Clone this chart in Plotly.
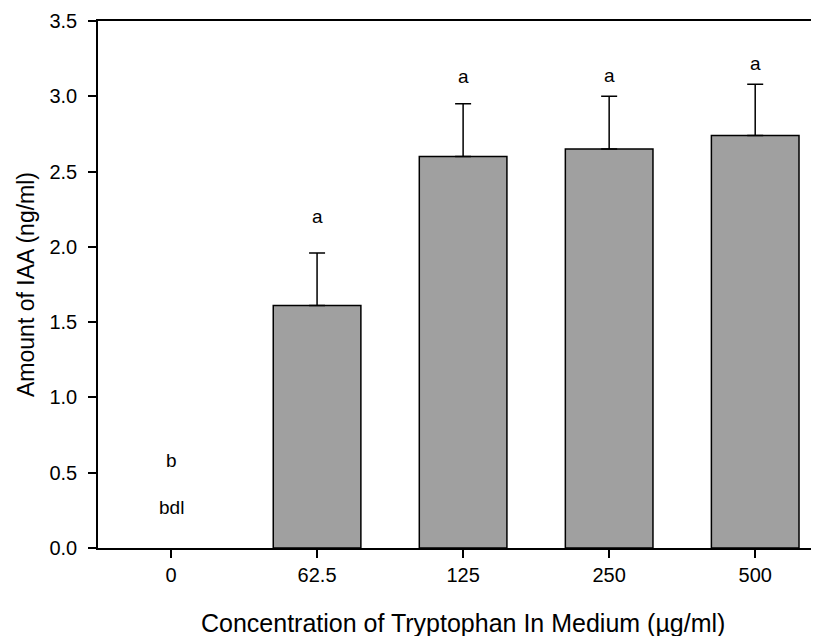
import plotly.graph_objects as go

# Tryptophan concentration (ug/ml) categories
concentrations = ["0", "62.5", "125", "250", "500"]
iaa_amount = [None, 1.61, 2.60, 2.65, 2.74]
iaa_error = [0, 0.35, 0.35, 0.35, 0.34]

# significance letters and where they sit
letters = ["b", "a", "a", "a", "a"]
letter_y = [0.58, 2.20, 3.13, 3.14, 3.22]
bdl_label = "bdl"
bdl_y = 0.27

X_TITLE = "Concentration of Tryptophan In Medium (\u00b5g/ml)"
Y_TITLE = "Amount of IAA (ng/ml)"

_FONT = "Arial, 'Liberation Sans', sans-serif"
_BAR = "#a0a0a0"

fig = go.Figure()
fig.add_trace(go.Bar(
    x=list(range(len(concentrations))),
    y=iaa_amount,
    width=0.6,
    marker=dict(color=_BAR, line=dict(color="black", width=1.5)),
    error_y=dict(
        type="data",
        symmetric=False,
        array=iaa_error,
        arrayminus=[0] * len(iaa_error),
        color="black",
        thickness=1.5,
        width=8,
    ),
    showlegend=False,
))

for i, (txt, y) in enumerate(zip(letters, letter_y)):
    fig.add_annotation(x=i, y=y, text=txt, showarrow=False,
                       font=dict(family=_FONT, size=19, color="black"))
fig.add_annotation(x=0, y=bdl_y, text=bdl_label, showarrow=False,
                   font=dict(family=_FONT, size=19, color="black"))

# x title as a paper annotation so it sits where the original put it
fig.add_annotation(xref="paper", yref="paper", x=0.507, y=-0.142,
                   xanchor="center", yanchor="middle", text=X_TITLE,
                   showarrow=False, font=dict(family=_FONT, size=25, color="black"))

# page body has an 8px margin, so the figure is shifted by that much
fig.update_layout(
    width=811,
    height=628,
    margin=dict(l=90, r=1, t=13, b=88),
    paper_bgcolor="white",
    plot_bgcolor="white",
    font=dict(family=_FONT, size=20, color="black"),
    xaxis=dict(
        range=[-0.5, 4.43],
        tickmode="array",
        tickvals=list(range(len(concentrations))),
        ticktext=concentrations,
        ticks="outside",
        ticklen=8,
        tickwidth=1.5,
        tickcolor="black",
        tickfont=dict(size=20),
        showline=True,
        linecolor="black",
        linewidth=1.5,
        mirror=True,
        showgrid=False,
        zeroline=False,
    ),
    yaxis=dict(
        range=[0, 3.5],
        tickvals=[0, 0.5, 1.0, 1.5, 2.0, 2.5, 3.0, 3.5],
        tickformat=".1f",
        ticks="outside",
        ticklen=8,
        tickwidth=1.5,
        tickcolor="black",
        tickfont=dict(size=20),
        ticklabelstandoff=7,
        showline=True,
        linecolor="black",
        linewidth=1.5,
        showgrid=False,
        zeroline=False,
        title=dict(text=Y_TITLE, font=dict(size=23), standoff=8),
    ),
)

fig.write_html("out.html")
